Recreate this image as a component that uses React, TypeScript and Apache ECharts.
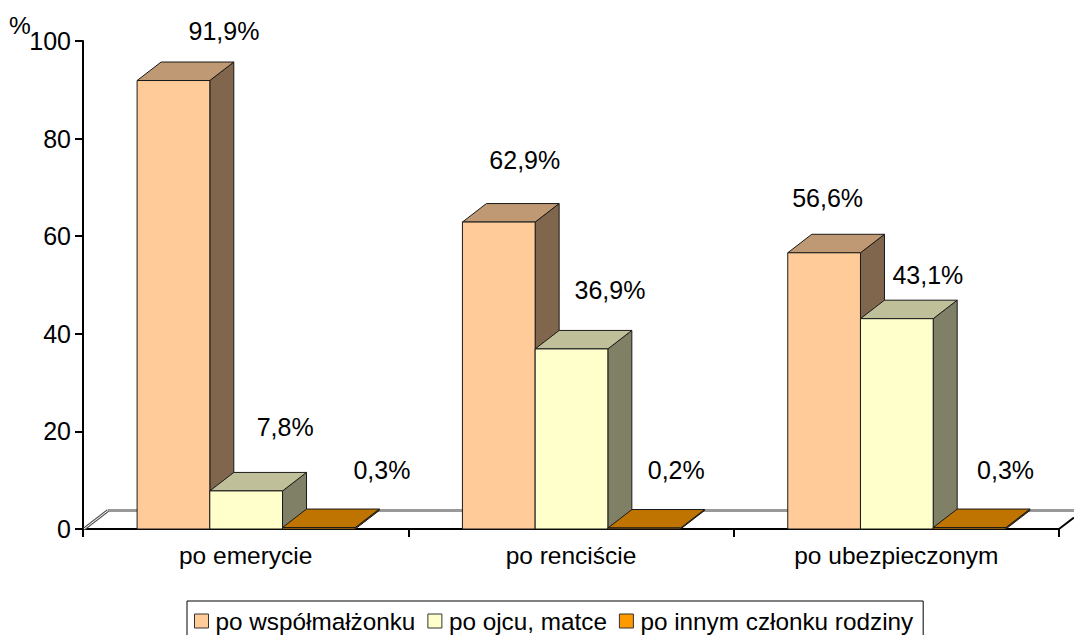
import React, { useEffect, useRef } from "react";
import * as echarts from "echarts";

const categories = ["po emerycie", "po renciście", "po ubezpieczonym"];
const seriesNames = ["po współmałżonku", "po ojcu, matce", "po innym członku rodziny"];
const spouse = [91.9, 62.9, 56.6];
const parent = [7.8, 36.9, 43.1];
const other = [0.3, 0.2, 0.3];
const yTicks = { min: 0, max: 100, interval: 20 };

const seriesValues = [spouse, parent, other];
const faces = [
  { front: "#FFCC99", top: "#BF9973", side: "#80664D" },
  { front: "#FFFFCC", top: "#BFBF99", side: "#808066" },
  { front: "#FF9900", top: "#BF7300", side: "#804D00" },
];
// hand-placed label offsets from the top-centre of each bar's front face
const labelOffsets = [
  [[50.5, -49.5], [26, -62], [3.5, -55]],
  [[39, -64], [38.5, -59], [31, -44]],
  [[63, -57.5], [32, -58], [36, -57.5]],
];

const FONT = '"Liberation Sans", Arial, sans-serif';
const FS = 24.5;
const FS_LEGEND = 24.3;
const FS_DATA = 25;
const DX = 24;
const DY = -18.5;
const BAR_FRACTION = 0.2235;

function makeRenderItem(s: number) {
  return (_params: any, api: any) => {
    const cat = api.value(0);
    const val = api.value(1);
    const base = api.coord([cat, 0]);
    const top = api.coord([cat, val]);
    const w = api.size([1, 0])[0] * BAR_FRACTION;
    const x0 = base[0] + (s - 1.5) * w + 0.5;
    const x1 = x0 + w;
    const yb = base[1];
    const yt = top[1];
    const f = faces[s];
    const stroke = { stroke: "#1a1a1a", lineWidth: 1, lineJoin: "round" };
    const off = labelOffsets[s][cat];
    return {
      type: "group",
      children: [
        {
          type: "polygon",
          shape: { points: [[x1, yb], [x1 + DX, yb + DY], [x1 + DX, yt + DY], [x1, yt]] },
          style: { fill: f.side, ...stroke },
        },
        {
          type: "polygon",
          shape: { points: [[x0, yt], [x0 + DX, yt + DY], [x1 + DX, yt + DY], [x1, yt]] },
          style: { fill: f.top, ...stroke },
        },
        {
          type: "rect",
          shape: { x: x0, y: yt, width: w, height: yb - yt },
          style: { fill: f.front, ...stroke },
        },
        {
          type: "text",
          x: (x0 + x1) / 2 + off[0],
          y: yt + off[1],
          style: {
            text: val.toFixed(1).replace(".", ",") + "%",
            font: `${FS_DATA}px ${FONT}`,
            fill: "#000",
            textAlign: "center",
            textVerticalAlign: "middle",
          },
        },
      ],
    };
  };
}

export default function App() {
  const ref = useRef<HTMLDivElement>(null);
  useEffect(() => {
    document.body.style.margin = "0";
    const chart = echarts.init(ref.current!, null, { renderer: "svg" });
    chart.setOption({
      animation: false,
      backgroundColor: "#fff",
      grid: { left: 83, right: 15, top: 41, bottom: 106 },
      xAxis: {
        type: "category",
        data: categories,
        axisLine: { lineStyle: { color: "#000", width: 2 } },
        axisTick: { show: true, alignWithLabel: false, length: 8, lineStyle: { color: "#000", width: 2 } },
        axisLabel: { color: "#000", fontFamily: FONT, fontSize: FS, margin: 14 },
      },
      yAxis: {
        type: "value",
        ...yTicks,
        splitLine: { show: false },
        axisLine: { show: true, lineStyle: { color: "#000", width: 2 } },
        axisTick: { show: true, length: 8, lineStyle: { color: "#000", width: 2 } },
        axisLabel: { color: "#000", fontFamily: FONT, fontSize: 25, margin: 12 },
      },
      legend: {
        left: 187,
        top: 601,
        data: seriesNames,
        icon: "rect",
        itemWidth: 14,
        itemHeight: 14,
        itemGap: 12,
        padding: [8, 10, 8, 7],
        borderColor: "#000",
        borderWidth: 1,
        backgroundColor: "#fff",
        selectedMode: false,
        textStyle: { color: "#000", fontFamily: FONT, fontSize: FS_LEGEND, padding: [0, 0, 0, 2] },
        itemStyle: { borderColor: "#333", borderWidth: 1 },
      },
      graphic: [
        { type: "line", z: 1, shape: { x1: 108, y1: 510.5, x2: 1074, y2: 510.5 }, style: { stroke: "#999", lineWidth: 3 } },
        { type: "line", z: 1, shape: { x1: 84, y1: 529, x2: 108, y2: 510.5 }, style: { stroke: "#555", lineWidth: 3 } },
        { type: "line", z: 1, shape: { x1: 84, y1: 529, x2: 108, y2: 510.5 }, style: { stroke: "#fff", lineWidth: 1 } },
        { type: "line", z: 3, shape: { x1: 1059, y1: 529, x2: 1074, y2: 517.5 }, style: { stroke: "#000", lineWidth: 2 } },
        {
          type: "text",
          x: 20,
          y: 25,
          z: 5,
          style: { text: "%", font: `${FS}px ${FONT}`, fill: "#000", textAlign: "center", textVerticalAlign: "middle" },
        },
      ],
      series: seriesValues.map((vals, s) => ({
        type: "custom",
        name: seriesNames[s],
        renderItem: makeRenderItem(s),
        clip: false,
        itemStyle: { color: faces[s].front },
        encode: { x: 0, y: 1 },
        data: vals.map((v, i) => [i, v]),
      })),
    });
    return () => chart.dispose();
  }, []);
  return <div ref={ref} style={{ width: 1074, height: 635 }} />;
}
